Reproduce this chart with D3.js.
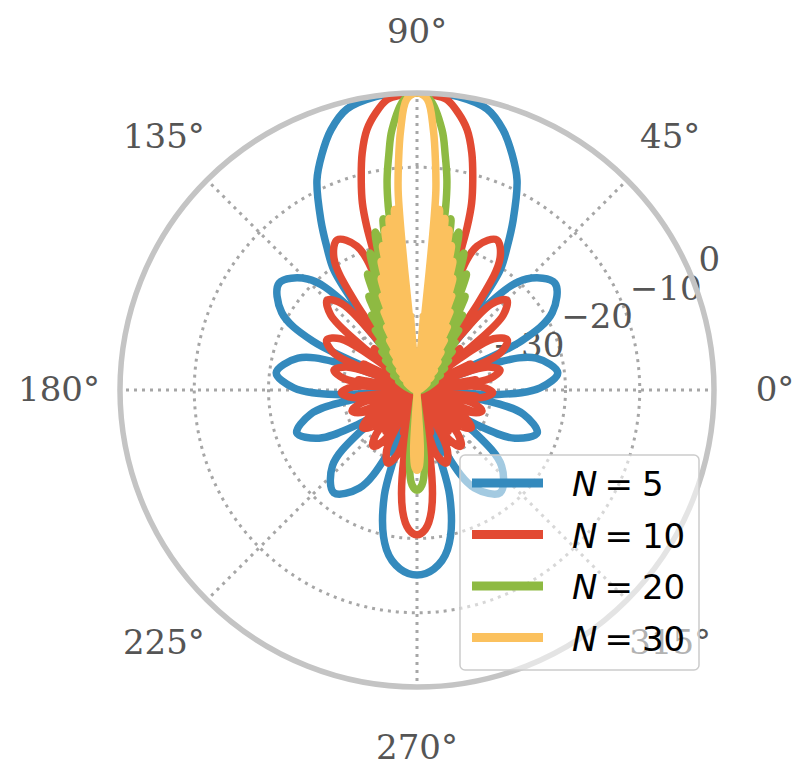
<!DOCTYPE html>
<html>
<head>
<meta charset="utf-8">
<script src="https://cdn.jsdelivr.net/npm/d3@7"></script>
<style>
  body { margin: 0; background: #ffffff; }
</style>
</head>
<body>
<svg id="chart" width="800" height="767"></svg>
<script>
// Element counts shown in the legend, one curve per count
const elementCounts = [5, 10, 20, 30];
const seriesColors = ["#348ABD", "#E24A33", "#8EBA42", "#FBC15E"];

// Right half of each pattern, [angle in degrees, level in dB], from 90° down to -90°.
// The left half is its mirror image about the vertical axis.
// Levels below the -40 dB floor land on the far side of the centre.
const patternN5 = [
  [90,0],[86,0],[82,-0.1],[76,-1],[71.7,-3.1],[68,-5.8],[64.5,-8.7],[60.5,-13.7],[57.8,-17.2],[55.3,-20.3],[54,-26],[53.2,-40],
  [50.1,-24.5],[45.4,-19],[37.8,-16.5],[29.8,-19],[25.1,-24.5],[22,-40],
  [19.2,-29],[15,-23.4],[7,-20.9],[1,-23.4],[-3.2,-29],[-6,-40],
  [-8.7,-30.8],[-12.8,-25.3],[-19.7,-22.8],[-26.2,-25.3],[-30.3,-30.8],[-33,-40],
  [-36.5,-30.2],[-41.9,-24.7],[-51,-22.2],[-59.6,-24.7],[-65,-30.2],[-68.5,-40],
  [-72.8,-25.1],[-79.2,-18.1],[-84.6,-15.8],[-90,-15.1]
];
const patternN10 = [
  [90,0],[87,-0.2],[84.1,-0.7],[81.5,-2.3],[79.1,-4.3],[77,-7.2],[75.1,-10.8],[73.7,-13.8],[72.9,-17],[72.5,-21],[72.2,-27],[72,-46],
  [70.1,-25.5],[67.3,-19],[62,-17.1],[57.8,-19],[54.9,-25.5],[53,-47],
  [51.4,-30.5],[49,-24.6],[45,-22.9],[41,-24.6],[38.6,-30.5],[37,-48],
  [36.2,-32.1],[33.8,-27.6],[29,-26.1],[24.2,-27.6],[21.8,-32.1],[21,-48],
  [20.25,-34.5],[18,-30],[13.5,-28.5],[9,-30],[6.75,-34.5],[6,-48],
  [5.2,-35.8],[2.8,-31.3],[-2,-29.8],[-6.8,-31.3],[-9.2,-35.8],[-10,-48],
  [-10.8,-36.8],[-13.2,-32.3],[-18,-30.8],[-22.8,-32.3],[-25.2,-36.8],[-26,-48],
  [-26.9,-37.1],[-29.6,-32.6],[-35,-31.1],[-40.4,-32.6],[-43.1,-37.1],[-44,-48],
  [-44.8,-36.4],[-47.2,-31.9],[-52,-30.4],[-56.8,-31.9],[-59.2,-36.4],[-60,-48],
  [-60.8,-35.4],[-63.3,-30.9],[-68.2,-29.4],[-73.2,-30.9],[-75.7,-35.4],[-76.5,-47],
  [-79.2,-30.5],[-83.3,-23.5],[-86.6,-21.2],[-90,-20.5]
];
const patternN20 = [
  [90,0],[87.5,-0.8],[84.5,-4.8],[83.2,-8],[81.9,-11.4],[81.1,-15],[80.7,-20],[80.5,-40],
  [79.6,-19.5],[78.8,-16.5],[78,-19.5],[77.2,-40],
  [76.2,-21],[75.2,-18],[74.2,-21],[73.2,-40],
  [72.1,-23.5],[71.1,-20.5],[70.1,-23.5],[69,-40],
  [68,-26],[66.9,-23],[65.8,-26],[64.8,-40],
  [63.8,-28.3],[62.8,-25.8],[61.8,-28.3],[60.8,-40],
  [58.9,-28.2],[57,-40],
  [55.1,-30.2],[53.2,-40],
  [51.3,-31.8],[49.5,-40],
  [47.5,-33],[45.5,-40],
  [43.2,-34.2],[41,-40],
  [38.2,-35.3],[35.5,-40],
  [32.2,-36.3],[29,-40],
  [25,-37.3],[21,-40],
  [-81,-59.5],
  [-84,-30.5],[-87,-27.2],[-90,-26.5]
];
const patternN30 = [
  [90,0],[88,-0.8],[86.4,-4.9],[85.3,-9.5],[84.6,-13],[84.3,-17],[84.1,-24],[84,-40],
  [83.45,-18.5],[82.9,-15.5],[82.35,-18.5],[81.8,-40],
  [81.3,-19.6],[80.75,-16.6],[80.2,-19.6],[79.7,-40],
  [79.2,-21],[78.65,-18],[78.1,-21],[77.6,-40],
  [77.1,-23],[76.55,-20],[76,-23],[75.5,-40],
  [75,-25],[74.4,-22],[73.85,-25],[73.3,-40],
  [72.7,-27.2],[72.15,-24.2],[71.6,-27.2],[71,-40],
  [69.75,-26.5],[68.5,-40],
  [67.15,-28.6],[65.8,-40],
  [64.3,-30.6],[62.8,-40],
  [61.15,-32.4],[59.5,-40],
  [57.55,-34],[55.6,-40],
  [53.3,-35.3],[51,-40],
  [48.25,-36.5],[45.5,-40],
  [42,-37.5],[38.5,-40],
  [33.75,-38.4],[29,-40],
  [-85,-50],
  [-86.8,-32],[-88.5,-29.6],[-90,-29.2]
];
const patterns = [patternN5, patternN10, patternN20, patternN30];

// Axis ticks
const radialTicks = [-30, -20, -10, 0];
const angleTicks = [0, 45, 90, 135, 180, 225, 270, 315];
const radialLabelAngle = 22.5;

// Layout
const cx = 417, cy = 390, R = 297;
const svg = d3.select("#chart");
const g = svg.append("g").attr("transform", `translate(${cx},${cy})`);

// Radius from level in dB; angle from mathematical degrees (0 = east, counter-clockwise)
const rScale = d3.scaleLinear().domain([-40, 0]).range([0, R]);
const aScale = d3.scaleLinear().domain([0, 90]).range([Math.PI / 2, 0]);

const gridColor = "#a6a6a6";
const labelColor = "#555555";

// Dotted grid: level circles and angle spokes
g.selectAll("circle.level")
  .data(radialTicks.filter(t => t < 0))
  .join("circle")
  .attr("class", "level")
  .attr("r", d => rScale(d))
  .attr("fill", "none")
  .attr("stroke", gridColor)
  .attr("stroke-width", 3)
  .attr("stroke-dasharray", "3,5");

g.selectAll("line.spoke")
  .data(angleTicks)
  .join("line")
  .attr("class", "spoke")
  .attr("x1", 0).attr("y1", 0)
  .attr("x2", d => d3.pointRadial(aScale(d), R)[0])
  .attr("y2", d => d3.pointRadial(aScale(d), R)[1])
  .attr("stroke", gridColor)
  .attr("stroke-width", 3)
  .attr("stroke-dasharray", "3,5");

// Angle labels
g.selectAll("text.angle")
  .data(angleTicks)
  .join("text")
  .attr("class", "angle")
  .attr("x", d => d3.pointRadial(aScale(d), R + 61)[0])
  .attr("y", d => d3.pointRadial(aScale(d), R + 61)[1] + 11)
  .attr("text-anchor", "middle")
  .attr("font-family", "DejaVu Serif")
  .attr("font-size", 34)
  .attr("fill", labelColor)
  .text(d => d + "°");

// Level labels along the 22.5° direction
g.selectAll("text.level")
  .data(radialTicks)
  .join("text")
  .attr("class", "level")
  .attr("x", d => d3.pointRadial(aScale(radialLabelAngle), rScale(d))[0] + 7)
  .attr("y", d => d3.pointRadial(aScale(radialLabelAngle), rScale(d))[1] - 5)
  .attr("text-anchor", "start")
  .attr("font-family", "DejaVu Serif")
  .attr("font-size", 34)
  .attr("fill", labelColor)
  .text(d => d === 0 ? "0" : "\u2212" + Math.abs(d));

// Pattern curves, clipped to the plotting disc
svg.append("clipPath").attr("id", "disc")
  .append("circle").attr("cx", 0).attr("cy", 0).attr("r", R);

const mirrored = right => right.concat(
  right.slice(1, -1).reverse().map(([t, v]) => [180 - t, v])
);

const line = d3.lineRadial()
  .angle(d => aScale(d[0]))
  .radius(d => rScale(d[1]))
  .curve(d3.curveCatmullRomClosed.alpha(0.5));

g.append("g").attr("clip-path", "url(#disc)")
  .selectAll("path.pattern")
  .data(patterns)
  .join("path")
  .attr("class", "pattern")
  .attr("d", d => line(mirrored(d)))
  .attr("fill", "none")
  .attr("stroke", (d, i) => seriesColors[i])
  .attr("stroke-width", 7.5)
  .attr("stroke-linejoin", "round");

// Outer frame
g.append("circle")
  .attr("r", R)
  .attr("fill", "none")
  .attr("stroke", "#c4c4c4")
  .attr("stroke-width", 5.5);

// Legend
const legend = svg.append("g").attr("transform", "translate(460,455)");
legend.append("rect")
  .attr("width", 239).attr("height", 215)
  .attr("rx", 5)
  .attr("fill", "#ffffff").attr("fill-opacity", 0.55)
  .attr("stroke", "#cccccc").attr("stroke-width", 1.5);

const entries = legend.selectAll("g.entry")
  .data(elementCounts)
  .join("g")
  .attr("class", "entry")
  .attr("transform", (d, i) => `translate(0,${28 + i * 51.5})`);

entries.append("line")
  .attr("x1", 12).attr("x2", 83)
  .attr("stroke", (d, i) => seriesColors[i])
  .attr("stroke-width", 9);

const labels = entries.append("text")
  .attr("x", 112).attr("y", 13)
  .attr("font-family", "DejaVu Sans")
  .attr("font-size", 34)
  .attr("fill", "#000000");
labels.append("tspan").attr("font-style", "italic").text("N");
labels.append("tspan").attr("dx", 7).text("=");
labels.append("tspan").attr("dx", 9).text(d => d);
</script>
</body>
</html>
